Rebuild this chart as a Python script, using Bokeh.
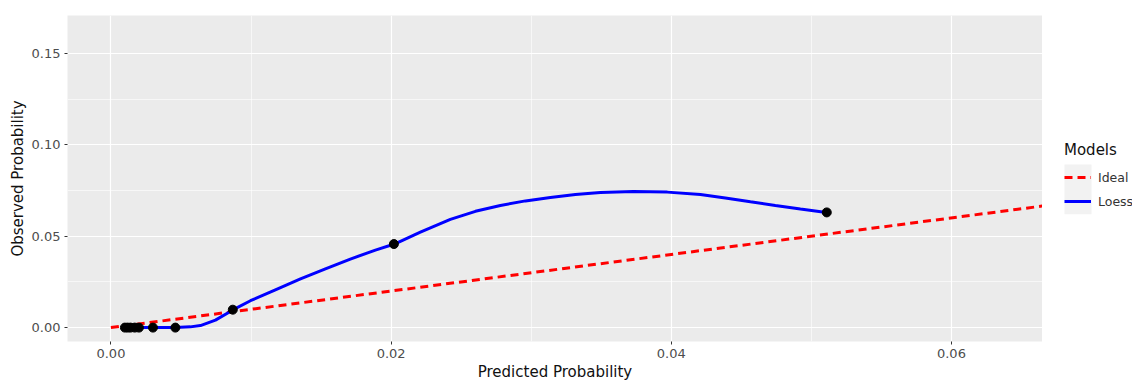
from bokeh.plotting import figure
from bokeh.layouts import row
from bokeh.models import Range1d, FixedTicker, Legend, LegendItem, NumeralTickFormatter
from bokeh.embed import file_html
from bokeh.resources import INLINE

# Calibration points: mean predicted vs observed probability per group
pred = [0.0010, 0.0012, 0.0014, 0.0017, 0.0020, 0.0030, 0.0046, 0.0087, 0.0202, 0.0511]
obs = [0.0, 0.0, 0.0, 0.0, 0.0, 0.0, 0.0, 0.0098, 0.0457, 0.0630]

# Loess smooth of observed on predicted
loess_x = [0.0010, 0.00282, 0.00460, 0.00567, 0.00639, 0.00746, 0.00874, 0.00996,
           0.01174, 0.01353, 0.01531, 0.01709, 0.01888, 0.02024, 0.02209, 0.02423,
           0.02602, 0.02780, 0.02959, 0.03137, 0.03316, 0.03494, 0.03729, 0.03972,
           0.04208, 0.04386, 0.04565, 0.04743, 0.04922, 0.05107]
loess_y = [0.0, 0.0, 0.0, 0.0004, 0.0011, 0.0041, 0.0098, 0.0147,
           0.0207, 0.0266, 0.0321, 0.0375, 0.0424, 0.0457, 0.0522, 0.0592,
           0.0636, 0.0668, 0.0693, 0.0712, 0.0728, 0.0739, 0.0745, 0.0741,
           0.0728, 0.0709, 0.0688, 0.0668, 0.0649, 0.0630]

# Perfect calibration reference line y = x
ideal_x = [0.0, 0.08]
ideal_y = [0.0, 0.08]

x_ticks = [0.0, 0.02, 0.04, 0.06]
x_minor = [0.01, 0.03, 0.05]
y_ticks = [0.0, 0.05, 0.10, 0.15]
y_minor = [0.025, 0.075, 0.125]

legend_title = "Models"
legend_labels = ["Ideal", "Loess"]

FONT = "DejaVu Sans"
RED = "#FF0000"
BLUE = "#0000FF"
DASH = "8 5"

p = figure(width=1042, height=383, output_backend="svg", toolbar_location=None,
           x_range=Range1d(-0.0031, 0.0665), y_range=Range1d(-0.0076, 0.1707),
           min_border_left=67, min_border_right=0, min_border_top=15,
           min_border_bottom=40)

p.background_fill_color = "#EBEBEB"
p.border_fill_color = "white"
p.outline_line_color = None

p.xaxis.ticker = FixedTicker(ticks=x_ticks, minor_ticks=x_minor)
p.yaxis.ticker = FixedTicker(ticks=y_ticks, minor_ticks=y_minor)
p.xaxis.formatter = NumeralTickFormatter(format="0.00")
p.yaxis.formatter = NumeralTickFormatter(format="0.00")

for g in (p.xgrid, p.ygrid):
    g.grid_line_color = "white"
    g.grid_line_width = 1.2
    g.minor_grid_line_color = "white"
    g.minor_grid_line_width = 0.6

for ax in (p.xaxis, p.yaxis):
    ax.axis_line_color = None
    ax.minor_tick_line_color = None
    ax.major_tick_line_color = "#333333"
    ax.major_tick_in = 0
    ax.major_tick_out = 3
    ax.major_label_text_font = FONT
    ax.major_label_text_font_size = "13px"
    ax.major_label_text_color = "#4D4D4D"
    ax.major_label_standoff = 3
    ax.axis_label_text_font = FONT
    ax.axis_label_text_font_size = "15px"
    ax.axis_label_text_font_style = "normal"
    ax.axis_label_text_color = "#111111"
    ax.axis_label_standoff = 2

p.xaxis.axis_label = "Predicted Probability"
p.yaxis.axis_label = "Observed Probability"

p.line(ideal_x, ideal_y, line_color=RED, line_width=3, line_dash=DASH)
p.line(loess_x, loess_y, line_color=BLUE, line_width=3)
p.scatter(pred, obs, size=9, fill_color="black", line_color="black")

# Side panel holding the legend. Its frame is aligned with the main frame
# (screen rows 15..343), so y here is measured upward from the page bottom.
lg = figure(width=90, height=383, output_backend="svg", toolbar_location=None,
            x_range=Range1d(0, 90), y_range=Range1d(40, 368),
            x_axis_type=None, y_axis_type=None, title=None,
            min_border_left=0, min_border_right=0, min_border_top=15,
            min_border_bottom=40)
lg.outline_line_color = None
lg.background_fill_color = "white"
lg.border_fill_color = "white"
lg.xgrid.visible = False
lg.ygrid.visible = False

# grey key background
lg.quad(left=22, right=49, bottom=168, top=218, fill_color="#F2F2F2",
        line_color=None)

# key glyphs (kept outside the visible panel; only their legend swatches show)
k_ideal = lg.line([-20, -10], [0, 0], line_color=RED, line_width=3, line_dash=DASH)
k_loess = lg.line([-20, -10], [0, 0], line_color=BLUE, line_width=3)

legend = Legend(items=[LegendItem(label=legend_labels[0], renderers=[k_ideal]),
                       LegendItem(label=legend_labels[1], renderers=[k_loess])],
                location=(22, 128), title=legend_title,
                title_text_font=FONT, title_text_font_size="15px",
                title_text_font_style="normal", title_text_color="#111111",
                title_standoff=6,
                label_text_font=FONT, label_text_font_size="12.5px",
                label_text_color="#333333", label_standoff=7,
                glyph_width=27, glyph_height=24, label_height=24, spacing=0,
                padding=0, margin=0, border_line_color=None,
                background_fill_alpha=0)
lg.add_layout(legend)

layout = row(p, lg, spacing=0)

open("out.html", "w").write(file_html(layout, INLINE))
